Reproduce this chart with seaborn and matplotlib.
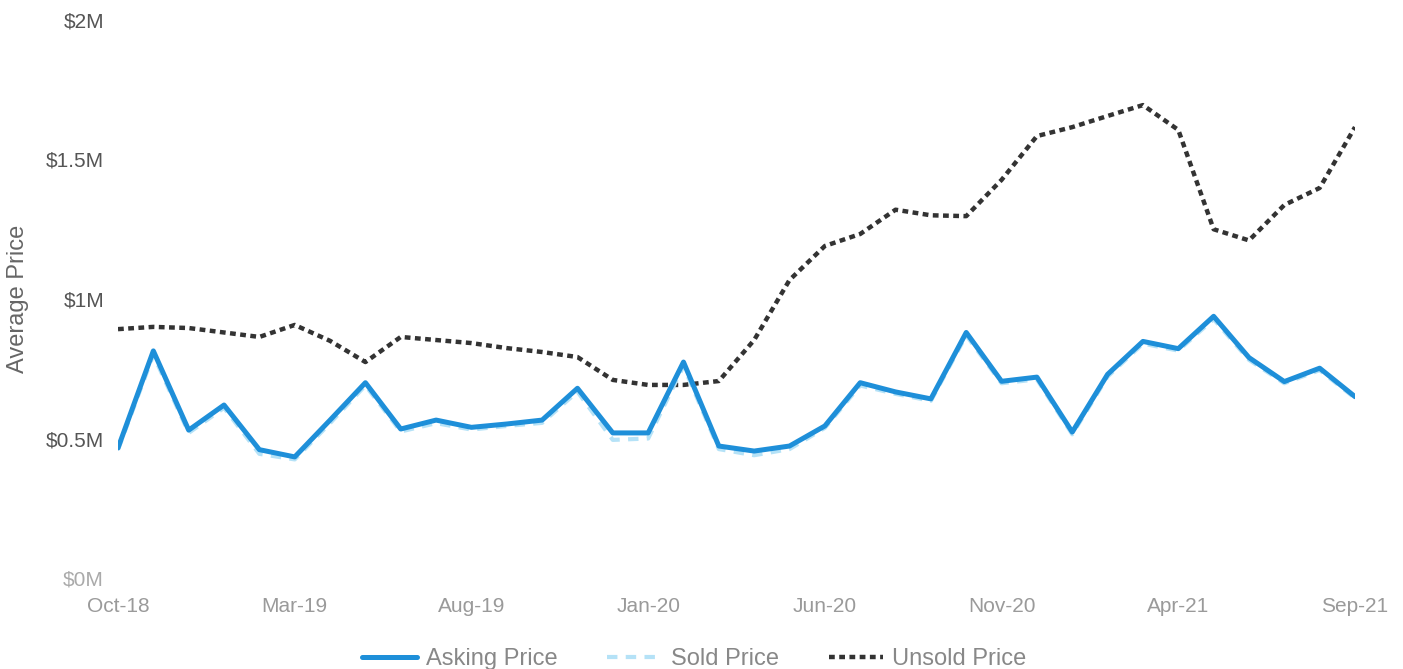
import matplotlib
matplotlib.use("Agg")
import matplotlib.pyplot as plt
import seaborn as sns
import pandas as pd
import numpy as np

months = ["Oct-18","Nov-18","Dec-18","Jan-19","Feb-19","Mar-19","Apr-19","May-19","Jun-19","Jul-19",
          "Aug-19","Sep-19","Oct-19","Nov-19","Dec-19","Jan-20","Feb-20","Mar-20","Apr-20","May-20",
          "Jun-20","Jul-20","Aug-20","Sep-20","Oct-20","Nov-20","Dec-20","Jan-21","Feb-21","Mar-21",
          "Apr-21","May-21","Jun-21","Jul-21","Aug-21","Sep-21"]

asking = [0.466,0.814,0.530,0.620,0.460,0.434,0.566,0.700,0.534,0.566,
          0.540,0.552,0.566,0.680,0.520,0.520,0.774,0.473,0.455,0.473,
          0.545,0.700,0.667,0.642,0.880,0.705,0.720,0.523,0.730,0.848,
          0.822,0.938,0.790,0.704,0.752,0.650]

sold = [0.460,0.800,0.520,0.610,0.445,0.425,0.555,0.690,0.525,0.555,
        0.532,0.545,0.556,0.668,0.495,0.500,0.760,0.462,0.440,0.462,
        0.538,0.690,0.660,0.635,0.870,0.698,0.712,0.515,0.722,0.840,
        0.815,0.928,0.782,0.698,0.745,0.645]

unsold = [0.892,0.900,0.896,0.880,0.864,0.907,0.850,0.774,0.864,0.853,
          0.842,0.824,0.810,0.792,0.710,0.692,0.692,0.706,0.853,1.068,
          1.190,1.233,1.320,1.300,1.297,1.427,1.584,1.616,1.656,1.695,
          1.606,1.250,1.210,1.337,1.398,1.616]

xtick_labels = ["Oct-18","Mar-19","Aug-19","Jan-20","Jun-20","Nov-20","Apr-21","Sep-21"]
ytick_values = [0, 0.5, 1.0, 1.5, 2.0]
ytick_labels = ["$0M", "$0.5M", "$1M", "$1.5M", "$2M"]

sns.set_theme(style="white")
plt.rcParams['font.family'] = ['Liberation Sans', 'DejaVu Sans']

idx = np.arange(len(months))
df_ask = pd.DataFrame({"x": idx, "y": asking})
df_sold = pd.DataFrame({"x": idx, "y": sold})
df_uns = pd.DataFrame({"x": idx, "y": unsold})

fig = plt.figure(figsize=(14.03, 6.69), dpi=100)
ax = fig.add_axes([118/1403, 1-578/669, (1355-118)/1403, (578-20)/669])

sns.lineplot(data=df_uns, x="x", y="y", ax=ax, color="#333333", linewidth=3.2,
             label="Unsold Price", zorder=2)
ax.lines[-1].set_dashes([1.3, 1.0])
sns.lineplot(data=df_sold, x="x", y="y", ax=ax, color="#b5e2f7", linewidth=3.0,
             label="Sold Price", zorder=3)
ax.lines[-1].set_dashes([2.5, 2.0])
sns.lineplot(data=df_ask, x="x", y="y", ax=ax, color="#1e8fd9", linewidth=3.6,
             label="Asking Price", zorder=4)

ax.set_xlim(0, len(months) - 1)
ax.set_ylim(0, 2.0)
for s in ax.spines.values():
    s.set_visible(False)
ax.grid(False)

tick_pos = [months.index(m) for m in xtick_labels]
ax.set_xticks(tick_pos)
ax.set_xticklabels(xtick_labels, fontsize=15, color="#9a9a9a")
ax.set_yticks(ytick_values)
ax.set_yticklabels(ytick_labels, fontsize=15, color="#555555")
ax.get_yticklabels()[0].set_color("#aaaaaa")
ax.tick_params(axis="both", length=0)
ax.tick_params(axis="x", pad=14)
ax.tick_params(axis="y", pad=10)
ax.set_xlabel("")
ax.set_ylabel("Average Price", fontsize=17, color="#666666", labelpad=12)

handles, labels = ax.get_legend_handles_labels()
order = [labels.index(l) for l in ["Asking Price", "Sold Price", "Unsold Price"]]
ax.get_legend().remove()
fig.legend([handles[i] for i in order], [labels[i] for i in order],
           loc="center", bbox_to_anchor=(0.495, 10/669), ncol=3, frameon=False,
           fontsize=17, labelcolor="#888888", handlelength=2.3, columnspacing=2.1,
           handletextpad=0.4)

fig.savefig("out.png", dpi=100)
